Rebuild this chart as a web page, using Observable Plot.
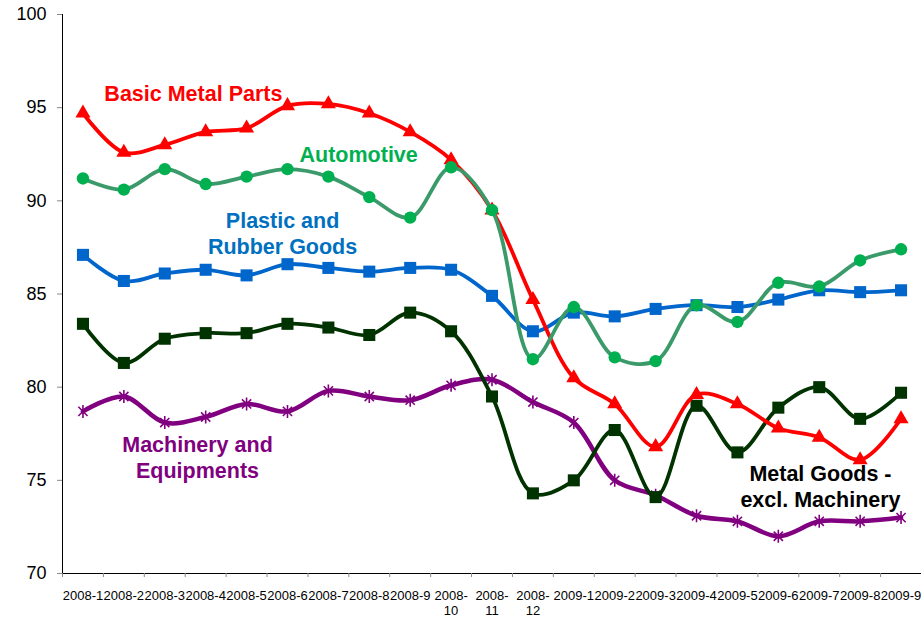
<!DOCTYPE html>
<html>
<head>
<meta charset="utf-8">
<script src="https://cdn.jsdelivr.net/npm/d3@7"></script>
<script src="https://cdn.jsdelivr.net/npm/@observablehq/plot@0.6"></script>
<style>
  html, body { margin: 0; padding: 0; background: #ffffff; }
  #chart svg { display: block; }
</style>
</head>
<body>
<div id="chart"></div>
<script>
// Monthly index values by industry, Jan 2008 – Sep 2009
const months = [
  "2008-1", "2008-2", "2008-3", "2008-4", "2008-5", "2008-6", "2008-7",
  "2008-8", "2008-9", "2008-10", "2008-11", "2008-12", "2009-1", "2009-2",
  "2009-3", "2009-4", "2009-5", "2009-6", "2009-7", "2009-8", "2009-9"
];

const basicMetalParts = [
  94.7, 92.6, 93.0, 93.7, 93.9, 95.1, 95.2, 94.7, 93.7, 92.2, 89.5,
  84.7, 80.5, 79.1, 76.8, 79.6, 79.1, 77.8, 77.3, 76.1, 78.3
];
const automotive = [
  91.2, 90.6, 91.7, 90.9, 91.3, 91.7, 91.3, 90.2, 89.1, 91.8, 89.5,
  81.5, 84.3, 81.6, 81.4, 84.4, 83.5, 85.6, 85.4, 86.8, 87.4
];
const plasticRubber = [
  87.1, 85.7, 86.1, 86.3, 86.0, 86.6, 86.4, 86.2, 86.4, 86.3, 84.9,
  83.0, 84.0, 83.8, 84.2, 84.4, 84.3, 84.7, 85.2, 85.1, 85.2
];
const metalGoods = [
  83.4, 81.3, 82.6, 82.9, 82.9, 83.4, 83.2, 82.8, 84.0, 83.0, 79.5,
  74.3, 75.0, 77.7, 74.1, 79.0, 76.5, 78.9, 80.0, 78.3, 79.7
];
const machinery = [
  78.7, 79.5, 78.1, 78.4, 79.1, 78.7, 79.8, 79.5, 79.3, 80.1, 80.4,
  79.2, 78.1, 75.0, 74.2, 73.1, 72.8, 72.0, 72.8, 72.8, 73.0
];

// Excel-style star marker: an X crossed by a vertical bar
const star = {
  draw(context, size) {
    const r = Math.sqrt(size / Math.PI);
    const d = r * Math.SQRT1_2;
    context.moveTo(0, -r); context.lineTo(0, r);
    context.moveTo(-d, -d); context.lineTo(d, d);
    context.moveTo(-d, d); context.lineTo(d, -d);
  }
};

// Drawing order: later series sit on top
const series = [
  {name: "Machinery and Equipments", values: machinery, line: "#800080", marker: "#800080", symbol: star, r: 6.5, width: 4.5, hollow: true},
  {name: "Metal Goods - excl. Machinery", values: metalGoods, line: "#003300", marker: "#003300", symbol: "square", r: 6.8, width: 3.8},
  {name: "Plastic and Rubber Goods", values: plasticRubber, line: "#0066CC", marker: "#0066CC", symbol: "square", r: 6.8, width: 3.8},
  {name: "Basic Metal Parts", values: basicMetalParts, line: "#FF0000", marker: "#FF0000", symbol: "triangle", r: 5.6, width: 3.8},
  {name: "Automotive", values: automotive, line: "#3A9A6A", marker: "#00B050", symbol: "circle", r: 6.2, width: 3.8}
];

const rows = s => s.values.map((v, i) => ({i, v}));

// In-chart series labels, anchored in data coordinates (month index, index value)
const labels = [
  {text: "Basic Metal Parts", i: 2.70, v: 95.8, color: "#FF0000"},
  {text: "Automotive", i: 6.74, v: 92.55, color: "#00B050"},
  {text: "Plastic and\nRubber Goods", i: 4.88, v: 88.3, color: "#0070C0"},
  {text: "Machinery and\nEquipments", i: 2.80, v: 76.28, color: "#800080"},
  {text: "Metal Goods -\nexcl. Machinery", i: 18.03, v: 74.72, color: "#000000"}
];

const tickLabel = i => {
  const m = months[i];
  if (m === undefined) return "";
  const [yr, mo] = m.split("-");
  return mo.length > 1 ? `${yr}-\n${mo}` : m;
};

const idx = d3.range(months.length);
const bounds = d3.range(months.length + 1).map(k => k - 0.5);

const marks = [
  // axis lines
  Plot.ruleY([70], {stroke: "#000", strokeWidth: 1}),
  Plot.ruleX([-0.5], {y1: 70, y2: 100, stroke: "#000", strokeWidth: 1}),
  Plot.axisY({
    ticks: d3.range(70, 101, 5), tickSize: 5, tickPadding: 11,
    fontSize: 18, stroke: "#888", color: "#000", label: null
  }),
  Plot.axisX({ticks: bounds, tickSize: 4, tickFormat: () => "", stroke: "#888", label: null}),
  Plot.axisX({
    ticks: idx, tickSize: 0, tickPadding: 17, tickFormat: tickLabel,
    fontSize: 13, lineHeight: 1.08, color: "#000", label: null
  })
];

for (const s of series) {
  marks.push(Plot.line(rows(s), {
    x: "i", y: "v", stroke: s.line, strokeWidth: s.width, curve: "catmull-rom"
  }));
  marks.push(Plot.dot(rows(s), s.hollow
    ? {x: "i", y: "v", symbol: s.symbol, r: s.r, fill: "none", stroke: s.marker, strokeWidth: 1.6}
    : {x: "i", y: "v", symbol: s.symbol, r: s.r, fill: s.marker, stroke: "none"}
  ));
}

marks.push(Plot.text(labels, {
  x: "i", y: "v", text: "text", fill: "color",
  fontSize: 21.5, fontWeight: "bold", lineHeight: 1.2, textAnchor: "middle"
}));

const chart = Plot.plot({
  width: 921,
  height: 618,
  marginLeft: 62,
  marginRight: 0,
  marginTop: 14,
  marginBottom: 45,
  style: {fontFamily: "'Liberation Sans', Arial, sans-serif", background: "#ffffff", overflow: "visible"},
  x: {type: "linear", domain: [-0.5, months.length - 0.5], axis: null},
  y: {domain: [70, 100], axis: null},
  marks
});

document.getElementById("chart").append(chart);
</script>
</body>
</html>
